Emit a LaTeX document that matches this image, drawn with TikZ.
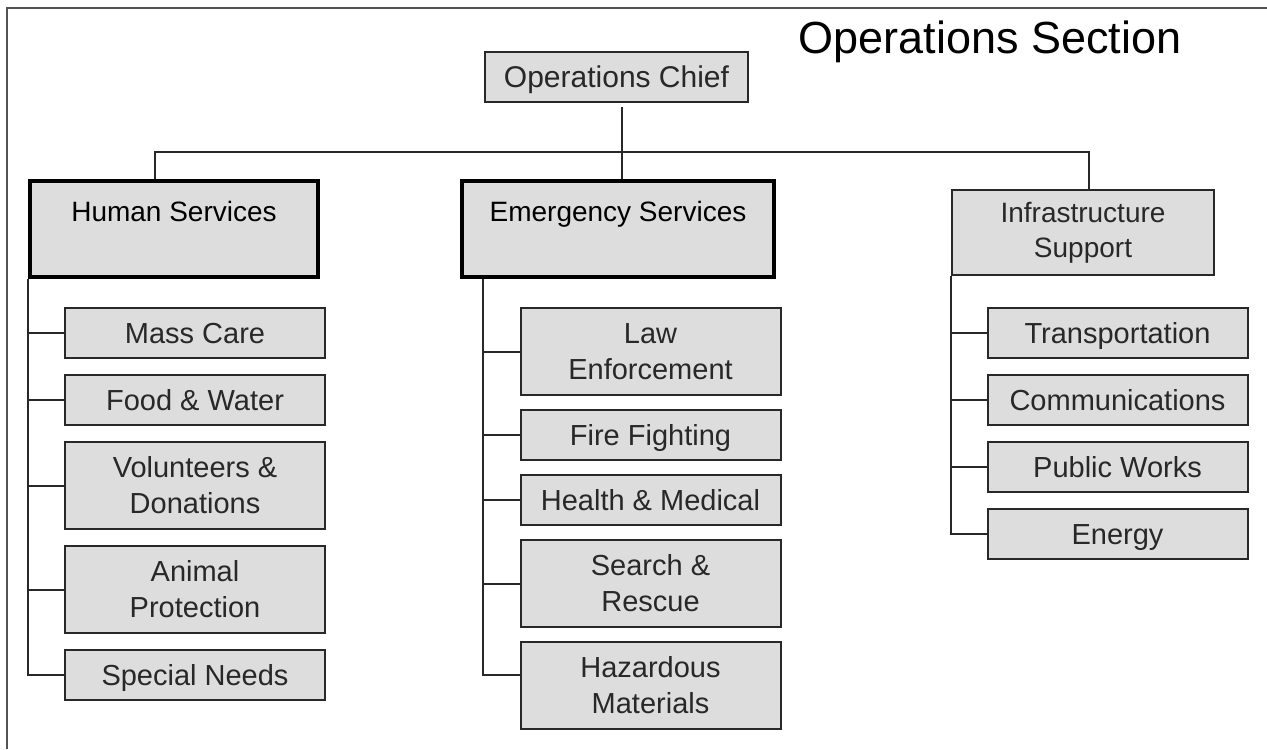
\documentclass[tikz,border=0pt]{standalone}
\usepackage{fontspec}
\setmainfont{Liberation Sans}
\usepackage{tikz}
\usetikzlibrary{positioning, calc}
\definecolor{boxgray}{RGB}{221, 221, 221}
\definecolor{inkdark}{RGB}{40, 40, 40}
\tikzset{
    unitbox/.style={
        draw=inkdark, line width=1pt, fill=boxgray, text=inkdark,
        minimum width=130pt, minimum height=25pt, inner sep=2pt,
        text height=10.5pt, text depth=0.5pt,
        align=center, font=\fontsize{14.5}{18}\selectfont
    },
    tallbox/.style={
        unitbox, minimum height=43.5pt, text height=, text depth=
    },
    branchbox/.style={
        draw=black, line width=1.6pt, fill=boxgray, text=black,
        minimum height=48pt, align=center,
        font=\fontsize{14}{17.5}\selectfont
    },
    link/.style={
        draw=inkdark, line width=1pt
    }
}

\begin{document}
\begin{tikzpicture}[x=0.5pt, y=-0.5pt]

        \useasboundingbox[fill=white] (0,0) rectangle (1267,749);
        % cadre
        \draw[inkdark!80, line width=1pt] (7,749) |- (1267,8);

        % titre et chef
        \node[font=\fontsize{22.5}{26}\selectfont] (title) at (990,42) {Operations Section};
        \node[unitbox, minimum width=131.5pt, font=\fontsize{15}{18}\selectfont] (chief) at (616.5,77.5) {Operations Chief};

        % trois branches
        \node[branchbox, minimum width=144pt] (human) at (174,229) {Human Services\\[-5pt] \strut};
        \node[branchbox, minimum width=156pt] (emerg) at (618,229) {Emergency Services\\[-5pt] \strut};
        \node[branchbox, draw=inkdark, line width=1pt, text=inkdark, minimum width=131pt, minimum height=42.5pt] (infra) at (1083,232.5) {Infrastructure\\Support};

        \coordinate (bus) at (622,152);
        \draw[link, shorten <=2pt] (chief.south -| bus) -- (bus |- emerg.north);
        \draw[link] ([xshift=-9.5pt]human.north) |- (bus) -| ([xshift=3pt]infra.north);

        % Human Services
        \node[unitbox] (masscare) at (195,333) {Mass Care};
        \node[unitbox, below=7.5pt of masscare] (foodwater) {Food \& Water};
        \node[tallbox, below=7.5pt of foodwater] (volunteers) {Volunteers \&\\Donations};
        \node[tallbox, below=7.5pt of volunteers] (animal) {Animal\\Protection};
        \node[unitbox, below=7.5pt of animal] (specneeds) {Special Needs};

        \draw[link] (human.south west) |- (specneeds.west);
        \foreach \n in {masscare, foodwater, volunteers, animal}
            \draw[link] (human.south west |- \n.west) -- (\n.west);

        % Emergency Services
        \node[tallbox] (lawenf) at (650.5,351.5) {Law\\Enforcement};
        \node[unitbox, below=6.5pt of lawenf] (firefight) {Fire Fighting};
        \node[unitbox, below=6.5pt of firefight] (health) {Health \& Medical};
        \node[tallbox, below=6.5pt of health] (search) {Search \&\\Rescue};
        \node[tallbox, below=6.5pt of search] (hazmat) {Hazardous\\Materials};

        \coordinate (etrunk) at ([xshift=11.5pt]emerg.south west);
        \draw[link] (etrunk) |- ([yshift=5.5pt]hazmat.west);
        \foreach \n in {lawenf, firefight, health, search}
            \draw[link] (etrunk |- \n.west) -- (\n.west);

        % Infrastructure Support
        \node[unitbox] (transport) at (1117.5,333) {Transportation};
        \node[unitbox, below=7.5pt of transport] (comms) {Communications};
        \node[unitbox, below=7.5pt of comms] (pubworks) {Public Works};
        \node[unitbox, below=7.5pt of pubworks] (energy) {Energy};

        \draw[link] (infra.south west) |- (energy.west);
        \foreach \n in {transport, comms, pubworks}
            \draw[link] (infra.south west |- \n.west) -- (\n.west);

    \end{tikzpicture}
\end{document}
